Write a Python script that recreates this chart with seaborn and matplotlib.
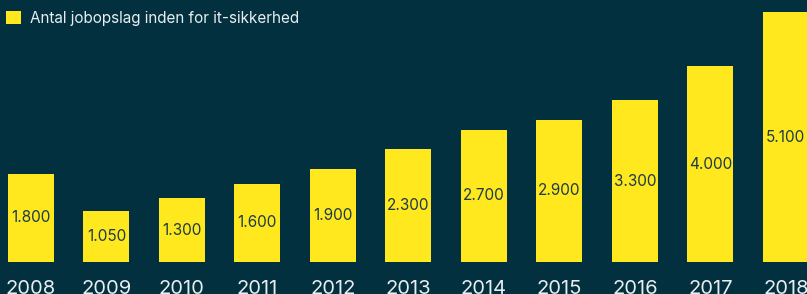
import matplotlib
matplotlib.use('Agg')
import matplotlib.pyplot as plt
import seaborn as sns
import pandas as pd
from matplotlib.patches import Patch

# data
years = ['2008', '2009', '2010', '2011', '2012', '2013', '2014', '2015', '2016', '2017', '2018']
jobs = [1800, 1050, 1300, 1600, 1900, 2300, 2700, 2900, 3300, 4000, 5100]
series_name = 'Antal jobopslag inden for it-sikkerhed'

bg = '#02303f'
yellow = '#ffe81e'
label_col = '#1d3b47'

sns.set_theme(style='white')
plt.rcParams['font.family'] = ['Inter', 'DejaVu Sans']

df = pd.DataFrame({'year': years, 'jobs': jobs})

fig = plt.figure(figsize=(8.07, 2.94), dpi=100, facecolor=bg)
ax = fig.add_axes([0, 32 / 294, 1, 262 / 294])
ax.set_facecolor(bg)

sns.barplot(data=df, x='year', y='jobs', color=yellow, width=0.61,
            saturation=1, edgecolor='none', linewidth=0, ax=ax)

ax.bar_label(ax.containers[0], labels=[f'{v:,}'.replace(',', '.') for v in jobs],
             label_type='center', color=label_col, fontsize=11)

ax.set_xlim(-0.41, 10.28)
ax.set_ylim(0, 5350)
ax.set_xlabel('')
ax.set_ylabel('')
ax.set_yticks([])
ax.tick_params(axis='x', length=0, pad=13, labelsize=14.5, colors='#e8eef0')
for s in ax.spines.values():
    s.set_visible(False)

fig.legend(handles=[Patch(facecolor=yellow, edgecolor='none', label=series_name)],
           loc='upper left', bbox_to_anchor=(6 / 807, 1 - 11 / 294), frameon=False,
           fontsize=11, labelcolor='#e8eef0', handlelength=0.95, handleheight=0.95,
           handletextpad=0.6, borderpad=0, borderaxespad=0)

fig.savefig('out.png', dpi=100, facecolor=bg)
